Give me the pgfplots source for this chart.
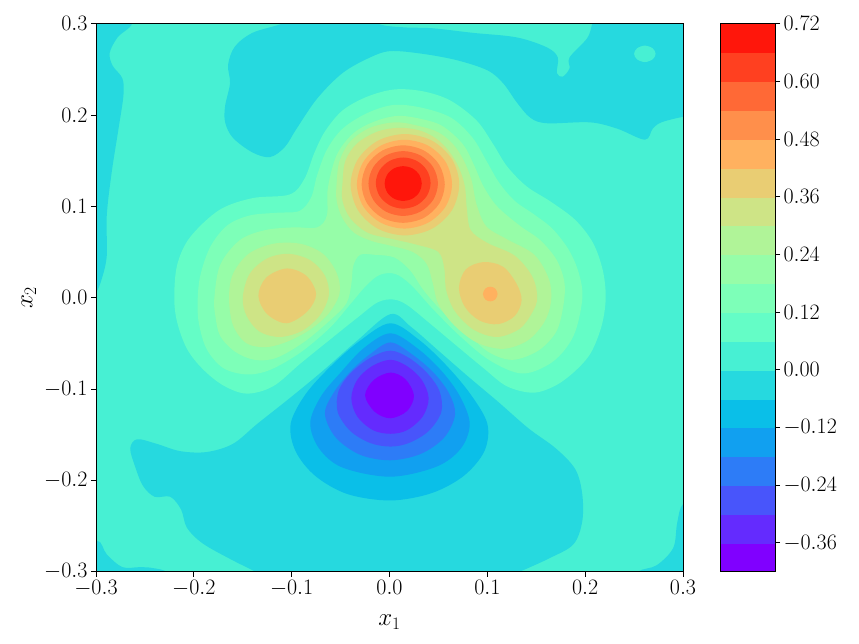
\RequirePackage{fix-cm}
\documentclass[border=0pt]{standalone}
\usepackage{pgfplots}
\pgfplotsset{compat=1.18}
\definecolor{c0}{RGB}{128,0,255}
\definecolor{c1}{RGB}{100,43,254}
\definecolor{c2}{RGB}{72,85,251}
\definecolor{c3}{RGB}{45,124,247}
\definecolor{c4}{RGB}{17,160,240}
\definecolor{c5}{RGB}{10,191,232}
\definecolor{c6}{RGB}{38,217,223}
\definecolor{c7}{RGB}{71,240,211}
\definecolor{c8}{RGB}{100,253,198}
\definecolor{c9}{RGB}{125,255,184}
\definecolor{c10}{RGB}{150,253,168}
\definecolor{c11}{RGB}{176,244,152}
\definecolor{c12}{RGB}{206,228,134}
\definecolor{c13}{RGB}{233,205,115}
\definecolor{c14}{RGB}{255,177,95}
\definecolor{c15}{RGB}{255,143,75}
\definecolor{c16}{RGB}{255,105,54}
\definecolor{c17}{RGB}{255,64,32}
\definecolor{c18}{RGB}{255,22,11}
\newcommand\labfont{\fontsize{22}{26}\selectfont}
\newcommand\axlabfont{\fontsize{25}{30}\selectfont}
\pgfplotsset{ct/.style={fill=#1,draw=none,smooth cycle,tension=0.55,mark=none},
  cb/.style={fill=#1,draw=#1,line width=0.2pt,mark=none}}
\begin{document}
\begin{tikzpicture}
\useasboundingbox (-96pt,-72.3pt) rectangle (763pt,571.7pt);
\begin{axis}[at={(0pt,0pt)},anchor=south west,scale only axis,width=587pt,height=548pt,
  xmin=-0.3,xmax=0.3,ymin=-0.3,ymax=0.3,axis on top,
  xtick={-0.3,-0.2,-0.1,0,0.1,0.2,0.3},ytick={-0.3,-0.2,-0.1,0,0.1,0.2,0.3},
  tick pos=left,tick align=outside,major tick length=5pt,
  axis line style={line width=1pt},tick style={line width=1pt,black},
  tick label style={font=\labfont},label style={font=\axlabfont},
  xticklabel style={/pgf/number format/.cd,fixed,fixed zerofill,precision=1},
  yticklabel style={/pgf/number format/.cd,fixed,fixed zerofill,precision=1},
  xlabel={$x_1$},ylabel={$x_2$},
  x label style={at={(axis description cs:0.5,-0.0726)},anchor=north},
  y label style={at={(axis description cs:-0.096,0.5)},anchor=south,rotate=0},
]
\addplot[fill=c7,draw=none,mark=none] coordinates {(-0.32,-0.32)(0.32,-0.32)(0.32,0.32)(-0.32,0.32)} --cycle;
% level -0.06..0 regions
\addplot[ct=c6] coordinates {(.001,-.018)(.022,-.032)(.050,-.058)(.080,-.086)(.111,-.114)(.142,-.143)(.170,-.165)(.190,-.188)(.197,-.215)(.197,-.245)(.188,-.270)(.164,-.285)(.131,-.301)(.100,-.315)(.06,-.325)(0,-.33)(-.06,-.33)(-.10,-.32)(-.135,-.301)(-.163,-.286)(-.191,-.269)(-.207,-.252)(-.213,-.232)(-.224,-.218)(-.240,-.218)(-.252,-.206)(-.260,-.185)(-.265,-.165)(-.258,-.155)(-.238,-.160)(-.214,-.168)(-.187,-.169)(-.160,-.160)(-.135,-.138)(-.102,-.110)(-.068,-.080)(-.033,-.047)};
\addplot[ct=c6] coordinates {(-.263,.303)(-.278,.285)(-.286,.268)(-.283,.254)(-.273,.240)(-.272,.221)(-.277,.185)(-.284,.137)(-.289,.090)(-.289,.046)(-.294,.021)(-.300,.005)(-.31,-.01)(-.33,.03)(-.34,.10)(-.34,.17)(-.34,.24)(-.33,.31)(-.29,.33)};
\addplot[ct=c6] coordinates {(-.163,.235)(-.165,.255)(-.158,.275)(-.140,.290)(-.110,.300)(-.08,.315)(-.04,.318)(-.012,.300)(.015,.296)(.044,.295)(.085,.290)(.130,.285)(.161,.274)(.172,.263)(.171,.246)(.177,.242)(.184,.251)(.184,.263)(.202,.284)(.207,.299)(.211,.314)(.26,.32)(.32,.32)(.33,.26)(.32,.20)(.300,.198)(.278,.192)(.269,.185)(.261,.173)(.233,.185)(.205,.192)(.161,.191)(.144,.197)(.130,.214)(.116,.235)(.100,.249)(.069,.260)(.034,.267)(.001,.270)(-.020,.263)(-.048,.246)(-.074,.218)(-.095,.185)(-.107,.165)(-.122,.154)(-.140,.159)(-.160,.175)(-.168,.192)(-.168,.210)};
\addplot[ct=c6] coordinates {(-.299,-.266)(-.289,-.281)(-.273,-.295)(-.255,-.295)(-.242,-.296)(-.227,-.301)(-.22,-.32)(-.27,-.33)(-.32,-.32)(-.325,-.28)};
\addplot[ct=c6] coordinates {(.300,-.226)(.294,-.247)(.290,-.274)(.273,-.293)(.254,-.300)(.240,-.32)(.28,-.33)(.32,-.32)(.33,-.27)(.32,-.22)};
\addplot[ct=c7] coordinates {(.272,.267)(.269,.273)(.261,.276)(.253,.273)(.250,.267)(.253,.261)(.261,.258)(.269,.261)};
% well
\addplot[ct=c5] coordinates {(.001,-.028)(.030,-.046)(.058,-.074)(.083,-.106)(.100,-.138)(.097,-.168)(.076,-.195)(.043,-.214)(.001,-.222)(-.043,-.215)(-.076,-.195)(-.096,-.168)(-.101,-.138)(-.086,-.106)(-.060,-.075)(-.030,-.047)};
\addplot[ct=c4] coordinates {(.001,-.039)(.028,-.055)(.053,-.080)(.072,-.108)(.082,-.138)(.073,-.165)(.048,-.185)(.001,-.196)(-.048,-.186)(-.072,-.165)(-.081,-.137)(-.070,-.108)(-.050,-.082)(-.026,-.055)};
\addplot[ct=c3] coordinates {(.001,-.049)(.023,-.062)(.045,-.082)(.061,-.105)(.067,-.128)(.056,-.153)(.032,-.171)(.001,-.178)(-.030,-.172)(-.055,-.153)(-.066,-.127)(-.057,-.104)(-.040,-.081)(-.020,-.062)};
\addplot[ct=c2] coordinates {(.001,-.058)(.020,-.066)(.038,-.082)(.051,-.102)(.053,-.125)(.040,-.146)(.020,-.159)(.001,-.163)(-.020,-.159)(-.040,-.146)(-.053,-.125)(-.052,-.102)(-.040,-.083)(-.020,-.066)};
\addplot[ct=c1] coordinates {(.001,-.068)(.018,-.075)(.033,-.090)(.040,-.110)(.034,-.130)(.018,-.145)(.001,-.149)(-.017,-.145)(-.033,-.130)(-.039,-.110)(-.033,-.090)(-.018,-.075)};
\addplot[ct=c0] coordinates {(.001,-.082)(.016,-.089)(.025,-.107)(.018,-.124)(.001,-.132)(-.015,-.125)(-.025,-.107)(-.016,-.090)};
% positive levels
\addplot[ct=c8] coordinates {(-.220,0)(-.217,.036)(-.204,.066)(-.174,.096)(-.140,.109)(-.102,.113)(-.087,.130)(-.077,.158)(-.066,.182)(-.048,.205)(-.023,.220)(.005,.228)(.034,.226)(.062,.216)(.089,.194)(.106,.168)(.120,.144)(.140,.122)(.165,.105)(.190,.085)(.208,.060)(.218,.030)(.221,0)(.217,-.030)(.206,-.060)(.190,-.080)(.170,-.096)(.147,-.104)(.120,-.097)(.096,-.077)(.069,-.053)(.040,-.027)(.018,-.008)(.004,-.002)(-.012,-.005)(-.033,-.022)(-.061,-.046)(-.091,-.072)(-.119,-.097)(-.146,-.105)(-.170,-.096)(-.191,-.078)(-.207,-.056)(-.217,-.027)};
\addplot[ct=c9] coordinates {(-.196,0)(-.193,.026)(-.183,.056)(-.166,.079)(-.143,.090)(-.115,.093)(-.092,.095)(-.080,.110)(-.074,.134)(-.064,.162)(-.048,.185)(-.023,.202)(.004,.211)(.033,.208)(.063,.197)(.085,.175)(.100,.148)(.112,.126)(.128,.106)(.148,.091)(.167,.075)(.184,.051)(.194,.025)(.197,-.002)(.188,-.042)(.167,-.070)(.136,-.083)(.103,-.069)(.072,-.042)(.044,-.012)(.022,.014)(.006,.026)(-.010,.025)(-.024,.013)(-.040,-.007)(-.061,-.033)(-.091,-.060)(-.122,-.079)(-.146,-.084)(-.170,-.077)(-.187,-.056)(-.195,-.027)};
\addplot[ct=c10] coordinates {(-.179,0)(-.173,.036)(-.153,.063)(-.127,.074)(-.098,.077)(-.074,.077)(-.064,.090)(-.063,.120)(-.054,.156)(-.037,.180)(-.015,.193)(.008,.199)(.031,.196)(.054,.188)(.075,.168)(.086,.146)(.096,.122)(.110,.100)(.133,.079)(.154,.063)(.171,.041)(.179,.015)(.177,-.013)(.170,-.038)(.152,-.058)(.126,-.068)(.102,-.060)(.079,-.039)(.054,-.015)(.035,.008)(.021,.030)(.005,.044)(-.015,.047)(-.030,.047)(-.037,.035)(-.039,.015)(-.044,-.006)(-.061,-.025)(-.088,-.049)(-.116,-.066)(-.138,-.068)(-.158,-.059)(-.173,-.042)(-.178,-.020)};
\addplot[ct=c11] coordinates {(-.164,0)(-.160,.026)(-.144,.048)(-.119,.059)(-.091,.059)(-.068,.048)(-.054,.027)(-.051,.005)(-.062,-.017)(-.080,-.034)(-.102,-.047)(-.125,-.054)(-.146,-.050)(-.160,-.030)};
\addplot[ct=c11] coordinates {(-.054,.126)(-.051,.150)(-.040,.171)(-.020,.186)(.006,.192)(.030,.188)(.050,.181)(.065,.168)(.076,.150)(.084,.128)(.089,.102)(.099,.078)(.120,.064)(.148,.047)(.163,.020)(.165,-.005)(.158,-.027)(.141,-.047)(.116,-.056)(.089,-.049)(.066,-.030)(.050,-.007)(.044,.017)(.038,.037)(.024,.050)(.001,.057)(-.018,.062)(-.036,.071)(-.048,.087)(-.054,.106)};
\addplot[ct=c12] coordinates {(-.048,.126)(-.045,.150)(-.033,.169)(-.012,.182)(.010,.186)(.031,.183)(.048,.174)(.061,.160)(.071,.142)(.077,.122)(.079,.098)(.083,.074)(.100,.060)(.128,.046)(.146,.023)(.151,0)(.146,-.016)(.133,-.034)(.110,-.043)(.086,-.035)(.067,-.015)(.058,.008)(.056,.032)(.050,.050)(.028,.058)(.004,.064)(-.022,.071)(-.040,.087)(-.048,.106)};
\addplot[ct=c12] coordinates {(-.150,0)(-.143,.026)(-.125,.043)(-.103,.048)(-.081,.041)(-.066,.024)(-.062,.003)(-.071,-.019)(-.089,-.036)(-.112,-.043)(-.133,-.037)(-.146,-.020)};
\addplot[ct=c13] coordinates {(-.134,.002)(-.126,.022)(-.105,.032)(-.085,.024)(-.075,.004)(-.084,-.015)(-.105,-.028)(-.125,-.018)};
\addplot[ct=c13] coordinates {(.096,.039)(.116,.034)(.130,.015)(.135,-.003)(.128,-.020)(.111,-.029)(.092,-.025)(.077,-.010)(.071,.011)(.078,.031)};
\addplot[ct=c14] coordinates {(.103,.012)(.108,.010)(.1105,.004)(.108,-.002)(.103,-.004)(.098,-.002)(.0955,.004)(.098,.010)};
\addplot[ct=c13] coordinates {(.0713,.124)(.0639,.1515)(.0436,.1718)(.0158,.1792)(-.012,.1718)(-.0323,.1515)(-.0397,.124)(-.0323,.0959)(-.012,.0756)(.0158,.0682)(.0436,.0756)(.0639,.0959)};
\addplot[ct=c14] coordinates {(.0639,.124)(.0574,.1486)(.0396,.1664)(.0153,.1729)(-.009,.1664)(-.0268,.1486)(-.0333,.124)(-.0268,.1)(-.009,.0822)(.0153,.0757)(.0396,.0822)(.0574,.1)};
\addplot[ct=c15] coordinates {(.0565,.124)(.0508,.1456)(.0353,.1611)(.014,.1668)(-.0073,.1611)(-.0228,.1456)(-.0285,.124)(-.0228,.103)(-.0073,.0875)(.014,.082)(.0353,.0875)(.0508,.103)};
\addplot[ct=c16] coordinates {(.0495,.125)(.0447,.1428)(.0318,.1557)(.014,.1605)(-.0038,.1557)(-.0167,.1428)(-.0215,.125)(-.0167,.1072)(-.0038,.0943)(.014,.0895)(.0318,.0943)(.0447,.1072)};
\addplot[ct=c17] coordinates {(.042,.1255)(.0382,.1395)(.028,.1497)(.014,.1535)(0,.1497)(-.0102,.1395)(-.014,.1255)(-.0102,.1115)(0,.1013)(.014,.0975)(.028,.1013)(.0382,.1115)};
\addplot[ct=c18] coordinates {(.033,.125)(.0305,.1345)(.0235,.1415)(.014,.144)(.0045,.1415)(-.0025,.1345)(-.005,.125)(-.0025,.1155)(.0045,.1085)(.014,.106)(.0235,.1085)(.0305,.1155)};
\end{axis}
\begin{axis}[at={(624pt,0pt)},anchor=south west,scale only axis,width=55pt,height=548pt,
  xmin=0,xmax=1,ymin=-0.42,ymax=0.72,axis on top,xtick=\empty,
  ytick={-0.36,-0.24,-0.12,0,0.12,0.24,0.36,0.48,0.60,0.72},
  ytick pos=right,yticklabel pos=right,tick align=outside,major tick length=5pt,
  axis line style={line width=1pt},tick style={line width=1pt,black},
  tick label style={font=\labfont},
  yticklabel style={/pgf/number format/.cd,fixed,fixed zerofill,precision=2},
]
\addplot[cb=c0] coordinates {(0,-0.42)(1,-0.42)(1,-0.36)(0,-0.36)} --cycle;
\addplot[cb=c1] coordinates {(0,-0.36)(1,-0.36)(1,-0.30)(0,-0.30)} --cycle;
\addplot[cb=c2] coordinates {(0,-0.30)(1,-0.30)(1,-0.24)(0,-0.24)} --cycle;
\addplot[cb=c3] coordinates {(0,-0.24)(1,-0.24)(1,-0.18)(0,-0.18)} --cycle;
\addplot[cb=c4] coordinates {(0,-0.18)(1,-0.18)(1,-0.12)(0,-0.12)} --cycle;
\addplot[cb=c5] coordinates {(0,-0.12)(1,-0.12)(1,-0.06)(0,-0.06)} --cycle;
\addplot[cb=c6] coordinates {(0,-0.06)(1,-0.06)(1,0)(0,0)} --cycle;
\addplot[cb=c7] coordinates {(0,0)(1,0)(1,0.06)(0,0.06)} --cycle;
\addplot[cb=c8] coordinates {(0,0.06)(1,0.06)(1,0.12)(0,0.12)} --cycle;
\addplot[cb=c9] coordinates {(0,0.12)(1,0.12)(1,0.18)(0,0.18)} --cycle;
\addplot[cb=c10] coordinates {(0,0.18)(1,0.18)(1,0.24)(0,0.24)} --cycle;
\addplot[cb=c11] coordinates {(0,0.24)(1,0.24)(1,0.30)(0,0.30)} --cycle;
\addplot[cb=c12] coordinates {(0,0.30)(1,0.30)(1,0.36)(0,0.36)} --cycle;
\addplot[cb=c13] coordinates {(0,0.36)(1,0.36)(1,0.42)(0,0.42)} --cycle;
\addplot[cb=c14] coordinates {(0,0.42)(1,0.42)(1,0.48)(0,0.48)} --cycle;
\addplot[cb=c15] coordinates {(0,0.48)(1,0.48)(1,0.54)(0,0.54)} --cycle;
\addplot[cb=c16] coordinates {(0,0.54)(1,0.54)(1,0.60)(0,0.60)} --cycle;
\addplot[cb=c17] coordinates {(0,0.60)(1,0.60)(1,0.66)(0,0.66)} --cycle;
\addplot[cb=c18] coordinates {(0,0.66)(1,0.66)(1,0.72)(0,0.72)} --cycle;
\end{axis}
\end{tikzpicture}
\end{document}
